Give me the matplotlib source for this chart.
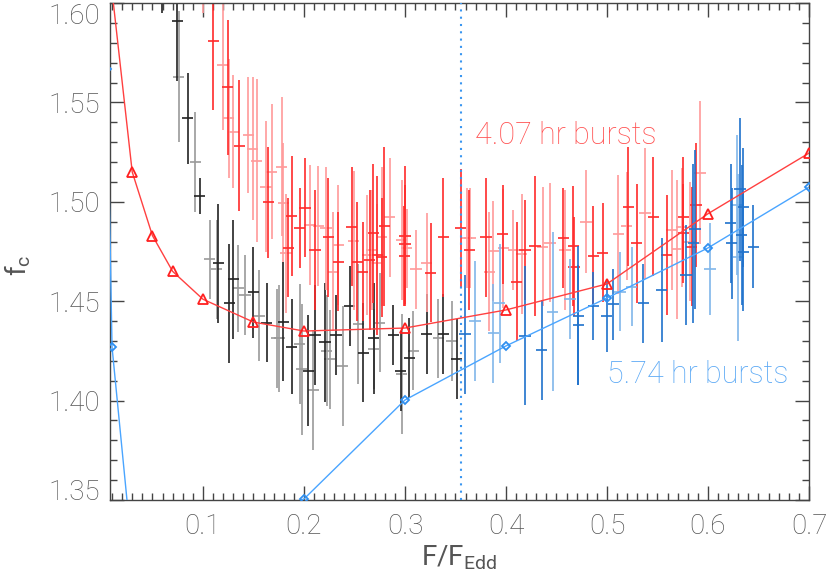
import matplotlib
matplotlib.use('Agg')
import matplotlib.pyplot as plt
from matplotlib.ticker import MultipleLocator

plt.rcParams['font.family'] = ['Roboto', 'DejaVu Sans']
plt.rcParams['font.weight'] = 'light'
plt.rcParams['mathtext.default'] = 'regular'

# model curves (4.07 hr and 5.74 hr)
model_red_x = [0.01, 0.03, 0.05, 0.07, 0.10, 0.15, 0.20, 0.30, 0.40, 0.50, 0.60, 0.70]
model_red_y = [1.606, 1.515, 1.483, 1.465, 1.451, 1.4395, 1.435, 1.4365, 1.4456, 1.4587, 1.494, 1.5245]
model_blue_x = [0.005, 0.01, 0.03, 0.20, 0.30, 0.40, 0.50, 0.60, 0.70]
model_blue_y = [1.567, 1.427, 1.323, 1.3505, 1.4003, 1.4275, 1.4516, 1.4768, 1.5074]

# burst measurements: x, y, y error (dark and light subsets)
black_dark_x = [0.0594, 0.0746, 0.0851, 0.0970, 0.1152, 0.1300, 0.1260, 0.1498, 0.1630,
                0.1795, 0.1878, 0.2043, 0.2109, 0.2208, 0.2317, 0.2455, 0.2587, 0.2693,
                0.2884, 0.2960, 0.3043, 0.3214, 0.3380, 0.3512]
black_dark_y = [1.615, 1.591, 1.542, 1.503, 1.469, 1.461, 1.449, 1.4545, 1.4392,
                1.4397, 1.4271, 1.4150, 1.4330, 1.4293, 1.4330, 1.4476, 1.4241, 1.4313,
                1.4330, 1.4150, 1.4213, 1.4335, 1.4335, 1.4208]
black_dark_e = [0.02, 0.03, 0.023, 0.009, 0.03, 0.03, 0.03, 0.023, 0.02,
                0.03, 0.024, 0.028, 0.025, 0.03, 0.02, 0.02, 0.025, 0.028,
                0.015, 0.02, 0.02, 0.02, 0.02, 0.02]
black_light_x = [0.0762, 0.0924, 0.1069, 0.1135, 0.1350, 0.1416, 0.1558, 0.1730, 0.1756,
                 0.1960, 0.1977, 0.2092, 0.2225, 0.2257, 0.2383, 0.2538, 0.2693, 0.2752,
                 0.2967, 0.3082, 0.3330, 0.3462]
black_light_y = [1.563, 1.520, 1.471, 1.466, 1.4565, 1.453, 1.4427, 1.4313, 1.4313,
                 1.4285, 1.4157, 1.4053, 1.4251, 1.4208, 1.4174, 1.4385, 1.4260, 1.4392,
                 1.4134, 1.4251, 1.4313, 1.4301]
black_light_e = [0.033, 0.025, 0.02, 0.025, 0.022, 0.02, 0.023, 0.025, 0.027,
                 0.03, 0.033, 0.03, 0.028, 0.025, 0.03, 0.03, 0.02, 0.025,
                 0.03, 0.02, 0.02, 0.02]

red_dark_x = [0.1102, 0.1244, 0.1359, 0.1647, 0.1878, 0.1845, 0.1960, 0.2010, 0.2109,
              0.2241, 0.2340, 0.2472, 0.2528, 0.2580, 0.2653, 0.2686, 0.2726, 0.2795,
              0.2770, 0.3000, 0.3000, 0.2993, 0.3254, 0.3380, 0.3550, 0.3637, 0.3802,
              0.3967, 0.4106, 0.4188, 0.4287, 0.4568, 0.4666, 0.4673, 0.4865, 0.4957,
              0.5211, 0.5294, 0.5459, 0.5591, 0.5756, 0.5756, 0.5881, 0.5838]
red_dark_y = [1.581, 1.5576, 1.5282, 1.4997, 1.4929, 1.4769, 1.4867, 1.4970, 1.4758,
              1.4821, 1.4699, 1.4875, 1.4699, 1.4648, 1.4707, 1.4841, 1.4732, 1.4878,
              1.4721, 1.4828, 1.4786, 1.4727, 1.4643, 1.4821, 1.4867, 1.4758, 1.4821,
              1.4836, 1.4598, 1.4758, 1.4778, 1.4817, 1.4778, 1.4674, 1.4727, 1.4744,
              1.4975, 1.4791, 1.4925, 1.4733, 1.4925, 1.4842, 1.4984, 1.4774]
red_dark_e = [0.035, 0.034, 0.033, 0.028, 0.03, 0.025, 0.02, 0.025, 0.03,
              0.03, 0.025, 0.03, 0.03, 0.025, 0.035, 0.035, 0.04, 0.04,
              0.03, 0.035, 0.03, 0.025, 0.025, 0.03, 0.03, 0.03, 0.03,
              0.025, 0.03, 0.025, 0.035, 0.025, 0.03, 0.025, 0.025, 0.025,
              0.03, 0.03, 0.03, 0.03, 0.03, 0.025, 0.031, 0.03]
red_light_x = [0.1000, 0.1198, 0.1254, 0.1300, 0.1449, 0.1492, 0.1532, 0.1680, 0.1624,
               0.1780, 0.1795, 0.1822, 0.2060, 0.2142, 0.2218, 0.2340, 0.2290, 0.2495,
               0.2627, 0.2670, 0.2770, 0.2720, 0.2851, 0.2967, 0.3017, 0.3109, 0.3214,
               0.3610, 0.3644, 0.3835, 0.3874, 0.3974, 0.4073, 0.4155, 0.4363, 0.4436,
               0.4584, 0.4792, 0.5112, 0.5195, 0.5376, 0.5641, 0.5696, 0.5739, 0.5822,
               0.5921]
red_light_y = [1.625, 1.569, 1.542, 1.5353, 1.5336, 1.5266, 1.5207, 1.5151, 1.5076,
               1.5177, 1.4995, 1.4740, 1.4883, 1.4878, 1.4867, 1.4783, 1.4648, 1.4804,
               1.4732, 1.4758, 1.4825, 1.4690, 1.4922, 1.4808, 1.4766, 1.4660, 1.4694,
               1.4817, 1.4817, 1.4648, 1.4752, 1.4766, 1.4758, 1.4737, 1.4774, 1.4794,
               1.4758, 1.4900, 1.4836, 1.4878, 1.4942, 1.4858, 1.4761, 1.4872, 1.4799,
               1.5147]
red_light_e = [0.03, 0.033, 0.03, 0.0285, 0.029, 0.036, 0.041, 0.034, 0.033,
               0.035, 0.03, 0.03, 0.03, 0.03, 0.031, 0.03, 0.03, 0.035,
               0.03, 0.03, 0.035, 0.03, 0.03, 0.03, 0.02, 0.02, 0.025,
               0.025, 0.025, 0.03, 0.025, 0.03, 0.02, 0.03, 0.03, 0.03,
               0.03, 0.026, 0.03, 0.027, 0.033, 0.03, 0.035, 0.03, 0.03,
               0.036]

blue_dark_x = [0.3594, 0.4188, 0.4353, 0.4716, 0.4716, 0.4865, 0.4997, 0.5063, 0.5360,
               0.5541, 0.5782, 0.5855, 0.5871, 0.6234, 0.6225, 0.6317, 0.6350, 0.6333,
               0.6350, 0.6449]
blue_dark_y = [1.4333, 1.4327, 1.4255, 1.4426, 1.4380, 1.4476, 1.4426, 1.4484, 1.4489,
               1.4556, 1.4632, 1.4791, 1.4861, 1.4791, 1.4892, 1.5063, 1.4972, 1.4833,
               1.4749, 1.4774]
blue_dark_e = [0.03, 0.035, 0.025, 0.035, 0.03, 0.017, 0.018, 0.018, 0.02,
               0.026, 0.025, 0.04, 0.04, 0.028, 0.03, 0.036, 0.03, 0.035,
               0.03, 0.021]
blue_light_x = [0.3693, 0.3874, 0.3940, 0.4462, 0.4634, 0.5129, 0.5244, 0.6020, 0.6284, 0.6300]
blue_light_y = [1.4400, 1.4338, 1.4489, 1.4446, 1.4510, 1.4548, 1.4573, 1.4662, 1.4984, 1.4721]
blue_light_e = [0.03, 0.025, 0.03, 0.04, 0.02, 0.02, 0.02, 0.023, 0.035, 0.042]

x_err = 0.0055
f_edd_line = 0.355

x_ticks = [0.1, 0.2, 0.3, 0.4, 0.5, 0.6, 0.7]
y_ticks = [1.35, 1.40, 1.45, 1.50, 1.55, 1.60]

fig = plt.figure(figsize=(8.30, 5.79), dpi=100)
ax = fig.add_axes([110 / 830, 1 - 500 / 579, 699 / 830, 497 / 579])

groups = [
    (black_light_x, black_light_y, black_light_e, '#9a9a9a'),
    (black_dark_x, black_dark_y, black_dark_e, '#222222'),
    (red_light_x, red_light_y, red_light_e, '#ff9a9a'),
    (red_dark_x, red_dark_y, red_dark_e, '#ff2a2a'),
    (blue_light_x, blue_light_y, blue_light_e, '#80b6ea'),
    (blue_dark_x, blue_dark_y, blue_dark_e, '#1f72cc'),
]
for gx, gy, ge, col in groups:
    ax.errorbar(gx, gy, yerr=ge, xerr=x_err, fmt='none', ecolor=col,
                elinewidth=1.2, capsize=0, zorder=2)

ax.plot(model_red_x, model_red_y, color='#ff4040', lw=1.0, marker='^', ms=7,
        mfc='none', mec='#ff2020', mew=1.3, zorder=4)
ax.plot(model_blue_x, model_blue_y, color='#4aa5ff', lw=1.0, marker='D', ms=4.5,
        mfc='none', mec='#2f8ff0', mew=1.3, zorder=4)

ax.axvline(f_edd_line, color='#3a96f0', lw=1.5, ls=(0, (1, 2.5)), zorder=3)

ax.text(0.369, 1.5336, '4.07 hr bursts', color='#ff5050', fontsize=22,
        fontweight='light', va='center')
ax.text(0.5, 1.4129, '5.74 hr bursts', color='#5aa8f5', fontsize=22,
        fontweight='light', va='center')

ax.set_xticks(x_ticks, [f'{v:.1f}' for v in x_ticks])
ax.set_yticks(y_ticks, [f'{v:.2f}' for v in y_ticks])
ax.xaxis.set_minor_locator(MultipleLocator(0.01))
ax.yaxis.set_minor_locator(MultipleLocator(0.01))
ax.set_xlim(0.008, 0.7)
ax.set_ylim(1.35, 1.60)
ax.tick_params(which='both', direction='in', top=True, right=True, colors='#444444',
               labelcolor='#555555', labelsize=20)
ax.tick_params(which='major', length=10, width=1.0)
ax.tick_params(which='minor', length=5, width=1.0)
ax.tick_params(axis='x', which='major', pad=9)
ax.tick_params(axis='y', which='major', pad=7)
for sp in ax.spines.values():
    sp.set_color('#444444')
    sp.set_linewidth(1.0)

# keep the end labels inside the frame height, as in the original
yt = ax.yaxis.get_major_ticks()
yt[0].label1.set_verticalalignment('baseline')
yt[-1].label1.set_verticalalignment('top')

ax.set_xlabel('F/F$_{Edd}$', fontsize=20, color='#555555')
ax.set_ylabel('f$_c$', fontsize=20, color='#555555')
ax.xaxis.set_label_coords(0.5, -0.088)
ax.yaxis.set_label_coords(-0.11, 0.473)

fig.savefig('out.png', dpi=100)
